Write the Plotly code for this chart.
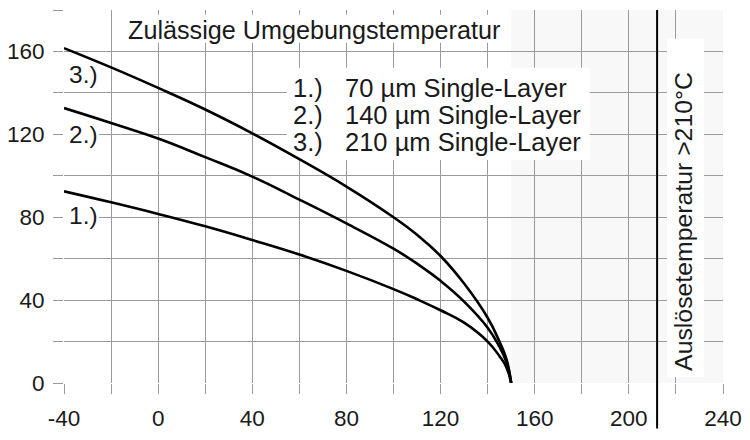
import plotly.graph_objects as go

# ---- data ----
temps = [-40, -20, 0, 20, 40, 60, 80, 100, 110, 120, 130, 140, 145, 148, 150]
curve1 = [92.5, 87.2, 81.6, 75.6, 69.0, 62.0, 54.1, 45.3, 40.4, 35.1, 29.1, 20.0, 13.0, 7.5, 0]
curve2 = [132.7, 125.5, 118.0, 109.0, 99.6, 88.5, 77.0, 64.8, 57.6, 49.3, 39.3, 26.7, 17.5, 10.0, 0]
curve3 = [161.6, 152.3, 142.4, 132.0, 120.5, 108.0, 94.8, 80.0, 71.5, 61.3, 48.0, 31.5, 20.0, 11.5, 0]
curve_tags = ["1.)", "2.)", "3.)"]
legend_texts = ["70 µm Single-Layer", "140 µm Single-Layer", "210 µm Single-Layer"]
title_text = "Zulässige Umgebungstemperatur"
trip_text = "Auslösetemperatur >210°C"
x_ticks = [-40, 0, 40, 80, 120, 160, 200, 240]
y_ticks = [0, 40, 80, 120, 160]
trip_temp = 212
shade_start = 150

X_RANGE = [-40, 240]
Y_RANGE = [0, 180]
FONT = "Liberation Sans, Arial, Helvetica, sans-serif"
TXT = "#1a1a1a"
GRID = "#9a9a9a"
TS = 25.5  # legend text size

fig = go.Figure()
for ys in (curve1, curve2, curve3):
    fig.add_trace(go.Scatter(x=temps, y=ys, mode="lines",
                             line=dict(color="black", width=2.6, shape="spline", smoothing=1.3),
                             showlegend=False, hoverinfo="skip"))

shapes = []
# shaded region
shapes.append(dict(type="rect", xref="x", yref="y", x0=shade_start, x1=X_RANGE[1],
                   y0=Y_RANGE[0], y1=Y_RANGE[1], fillcolor="#f8f8f8", line=dict(width=0), layer="below"))
# white boxes (cover the grid, stay under the curves)
boxes = [
    (-17.1, 149.5, 164.2, 177.7),   # title
    (54.7, 183.4, 107.6, 152.1),    # legend
    (216.2, 231.9, 2.8, 166.1),     # trip label
    (-40.2, -25.1, 114.4, 125.8),   # 2.)
    (-40.2, -25.1, 75.0, 86.3),     # 1.)
    (-39.6, -25.1, 143.0, 154.4),   # 3.)
]
for x0, x1, y0, y1 in boxes:
    shapes.append(dict(type="rect", xref="x", yref="y", x0=x0, x1=x1, y0=y0, y1=y1,
                       fillcolor="white", line=dict(width=0), layer="between"))
# trip temperature line
px = (trip_temp - X_RANGE[0]) / (X_RANGE[1] - X_RANGE[0])
shapes.append(dict(type="line", xref="paper", yref="paper", x0=px, x1=px, y0=-0.122, y1=1,
                   line=dict(color="black", width=2)))

ann = []
ann.append(dict(x=66.2, y=170.3, xref="x", yref="y", text=title_text, showarrow=False,
                xanchor="center", yanchor="middle", font=dict(size=25.2, color=TXT, family=FONT)))
leg_y = [142.3, 129.4, 116.5]
for tag, txt, yy in zip(curve_tags, legend_texts, leg_y):
    ann.append(dict(x=57.3, y=yy, xref="x", yref="y", text=tag, showarrow=False, borderpad=0,
                    borderwidth=0, xanchor="left", yanchor="middle",
                    font=dict(size=TS, color=TXT, family=FONT)))
    ann.append(dict(x=79.5, y=yy, xref="x", yref="y", text=txt, showarrow=False, borderpad=0,
                    borderwidth=0, xanchor="left", yanchor="middle",
                    font=dict(size=TS, color=TXT, family=FONT)))
tag_y = [80.6, 120.0, 148.7]
for tag, yy in zip(curve_tags, tag_y):
    ann.append(dict(x=-38.0, y=yy, xref="x", yref="y", text=tag, showarrow=False, borderpad=0,
                    borderwidth=0, xanchor="left", yanchor="middle",
                    font=dict(size=24.5, color=TXT, family=FONT)))
ann.append(dict(x=223.4, y=78.2, xref="x", yref="y", text=trip_text, showarrow=False, textangle=-90,
                xanchor="center", yanchor="middle", font=dict(size=24.8, color=TXT, family=FONT)))

axis_common = dict(showgrid=True, gridcolor=GRID, gridwidth=1, zeroline=False,
                   ticks="outside", ticklen=10, tickcolor=GRID, tickwidth=1,
                   showline=False, automargin=False,
                   tickfont=dict(size=22.5, color=TXT, family=FONT))

fig.update_layout(
    width=750, height=440,
    margin=dict(l=64, r=27, t=10, b=57),
    paper_bgcolor="white", plot_bgcolor="white",
    shapes=shapes, annotations=ann,
    xaxis=dict(range=X_RANGE, tickmode="array", tickvals=x_ticks,
               ticktext=[str(v) for v in x_ticks], ticklabelstandoff=5,
               minor=dict(dtick=20, tick0=-40, showgrid=True, gridcolor=GRID, gridwidth=1,
                          ticks="outside", ticklen=10, tickcolor=GRID, tickwidth=1),
               **axis_common),
    yaxis=dict(range=Y_RANGE, tickmode="array", tickvals=y_ticks,
               ticktext=[str(v) for v in y_ticks], ticklabelstandoff=4,
               minor=dict(dtick=20, tick0=0, showgrid=True, gridcolor=GRID, gridwidth=1,
                          ticks="outside", ticklen=10, tickcolor=GRID, tickwidth=1),
               **axis_common),
)

fig.write_html("out.html", config={"displayModeBar": False},
               post_script="document.body.style.margin='0';document.body.style.overflow='hidden';")
